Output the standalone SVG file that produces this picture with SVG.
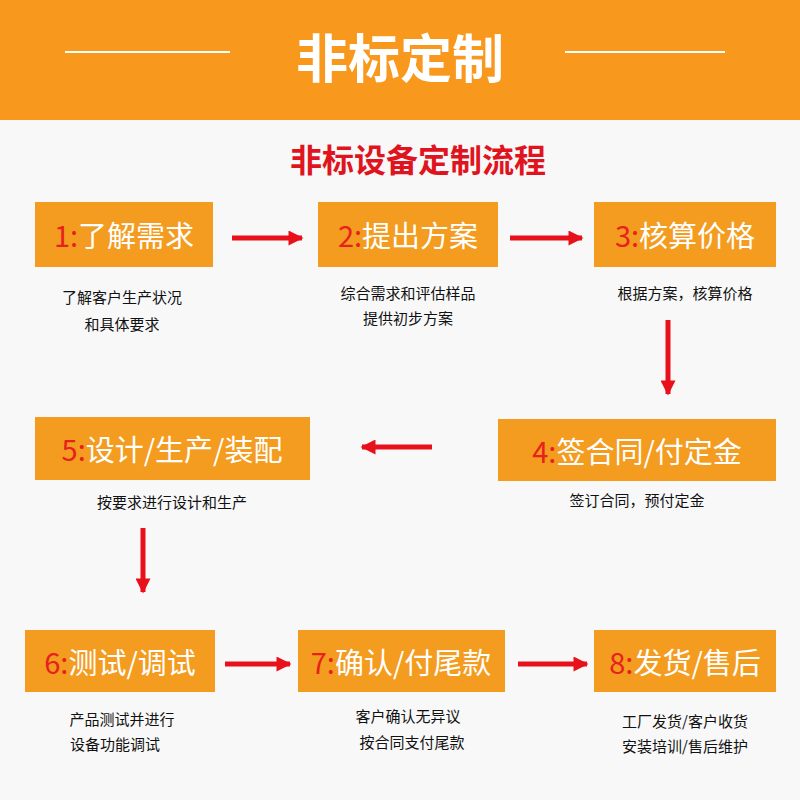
<svg xmlns="http://www.w3.org/2000/svg" width="800" height="800" viewBox="0 0 800 800">
<defs><style>
.box{fill:#f39c1f}
.bt{font-family:"Noto Sans CJK SC",sans-serif;font-size:29px;fill:#fff;text-anchor:middle;dominant-baseline:central}
.n{fill:#e8201e}
.d{font-family:"Noto Sans CJK SC",sans-serif;font-size:15px;fill:#111;text-anchor:middle}
.ar{stroke:#e8101a;stroke-width:5;fill:none}
</style>
<marker id="h" viewBox="0 0 10 10" refX="9" refY="5" markerWidth="3.2" markerHeight="3" orient="auto" markerUnits="strokeWidth"><path d="M0,0 L10,5 L0,10 Z" fill="#e8101a"/></marker></defs>
<rect width="800" height="800" fill="#f8f8f8"/>
<g id="header"><rect width="800" height="120" fill="#f8991d"/>
<line x1="65" y1="52" x2="230" y2="52" stroke="#fff" stroke-width="2"/>
<line x1="565" y1="52" x2="725" y2="52" stroke="#fff" stroke-width="2"/>
<text x="400" y="55" font-family="Noto Sans CJK SC,sans-serif" font-size="52" font-weight="bold" fill="#fff" text-anchor="middle" dominant-baseline="central">非标定制</text></g>
<text x="418" y="158" font-family="Noto Sans CJK SC,sans-serif" font-size="32" font-weight="bold" fill="#e0141e" text-anchor="middle" dominant-baseline="central">非标设备定制流程</text>
<g id="n1"><rect class="box" x="35" y="202" width="178" height="65"/><text class="bt" x="124" y="234"><tspan class="n">1:</tspan>了解需求</text>
<text class="d" x="122" y="303">了解客户生产状况</text><text class="d" x="122" y="330">和具体要求</text></g>
<g id="n2"><rect class="box" x="318" y="202" width="180" height="65"/><text class="bt" x="408" y="234"><tspan class="n">2:</tspan>提出方案</text>
<text class="d" x="408" y="299">综合需求和评估样品</text><text class="d" x="408" y="324">提供初步方案</text></g>
<g id="n3"><rect class="box" x="594" y="202" width="182" height="65"/><text class="bt" x="685" y="234"><tspan class="n">3:</tspan>核算价格</text>
<text class="d" x="685" y="299">根据方案，核算价格</text></g>
<g id="n4"><rect class="box" x="498" y="419" width="278" height="62"/><text class="bt" x="637" y="450"><tspan class="n">4:</tspan>签合同/付定金</text>
<text class="d" x="637" y="506">签订合同，预付定金</text></g>
<g id="n5"><rect class="box" x="35" y="417" width="275" height="63"/><text class="bt" x="172" y="448"><tspan class="n">5:</tspan>设计/生产/装配</text>
<text class="d" x="172" y="508">按要求进行设计和生产</text></g>
<g id="n6"><rect class="box" x="25" y="630" width="190" height="62"/><text class="bt" x="120" y="661"><tspan class="n">6:</tspan>测试/调试</text>
<text class="d" x="122" y="725">产品测试并进行</text><text class="d" x="115" y="750">设备功能调试</text></g>
<g id="n7"><rect class="box" x="298" y="630" width="207" height="62"/><text class="bt" x="401" y="661"><tspan class="n">7:</tspan>确认/付尾款</text>
<text class="d" x="408" y="722">客户确认无异议</text><text class="d" x="412" y="748">按合同支付尾款</text></g>
<g id="n8"><rect class="box" x="594" y="630" width="182" height="62"/><text class="bt" x="685" y="661"><tspan class="n">8:</tspan>发货/售后</text>
<text class="d" x="685" y="727">工厂发货/客户收货</text><text class="d" x="685" y="752">安装培训/售后维护</text></g>
<g id="connectors">
<line class="ar" x1="232" y1="238" x2="302" y2="238" marker-end="url(#h)"/>
<line class="ar" x1="510" y1="238" x2="582" y2="238" marker-end="url(#h)"/>
<line class="ar" x1="668" y1="320" x2="668" y2="394" marker-end="url(#h)"/>
<line class="ar" x1="432" y1="447" x2="362" y2="447" marker-end="url(#h)"/>
<line class="ar" x1="143" y1="528" x2="143" y2="592" marker-end="url(#h)"/>
<line class="ar" x1="225" y1="664" x2="290" y2="664" marker-end="url(#h)"/>
<line class="ar" x1="518" y1="664" x2="587" y2="664" marker-end="url(#h)"/>
</g>
</svg>
